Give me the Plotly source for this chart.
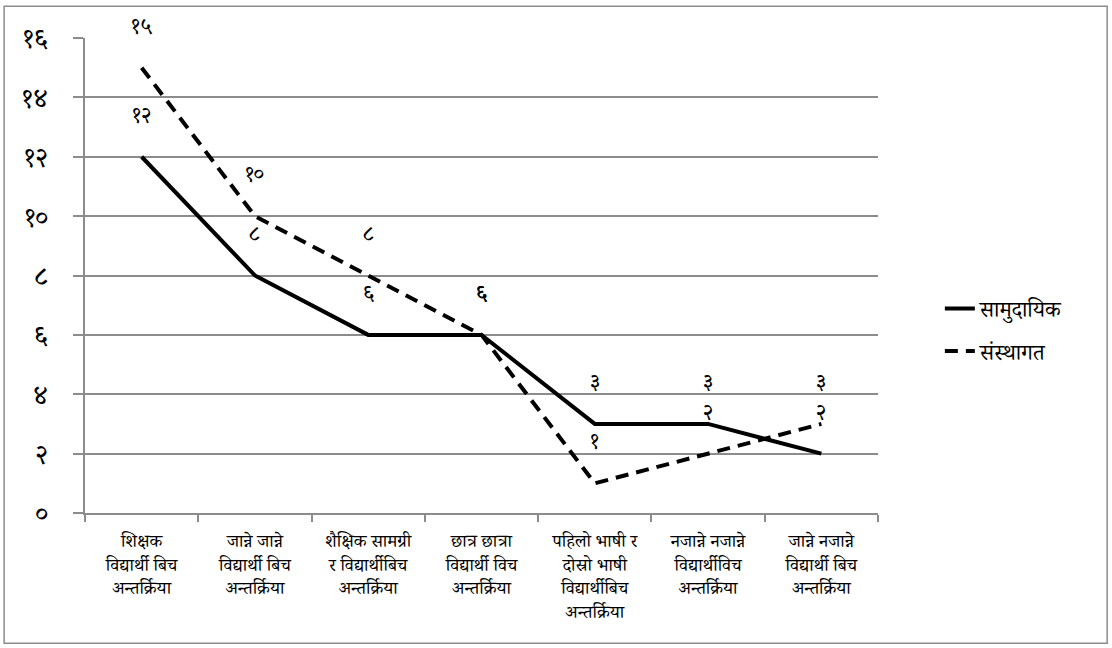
import plotly.graph_objects as go

categories = [
    "शिक्षक<br>विद्यार्थी बिच<br>अन्तर्क्रिया",
    "जान्ने जान्ने<br>विद्यार्थी बिच<br>अन्तर्क्रिया",
    "शैक्षिक सामग्री<br>र विद्यार्थीबिच<br>अन्तर्क्रिया",
    "छात्र छात्रा<br>विद्यार्थी विच<br>अन्तर्क्रिया",
    "पहिलो भाषी र<br>दोस्रो भाषी<br>विद्यार्थीबिच<br>अन्तर्क्रिया",
    "नजान्ने नजान्ने<br>विद्यार्थीविच<br>अन्तर्क्रिया",
    "जान्ने नजान्ने<br>विद्यार्थी बिच<br>अन्तर्क्रिया",
]
samudayik = [12, 8, 6, 6, 3, 3, 2]
sansthagat = [15, 10, 8, 6, 1, 2, 3]
series_names = ["सामुदायिक", "संस्थागत"]
y_tickvals = [0, 2, 4, 6, 8, 10, 12, 14, 16]

DEV = "०१२३४५६७८९"
def dev(n):
    return "".join(DEV[int(c)] for c in str(n))

FONT = "Kokila, Mangal, 'Noto Serif Devanagari', 'Noto Sans Devanagari', 'Noto Sans', serif"

fig = go.Figure()
fig.add_trace(go.Scatter(x=categories, y=samudayik, mode="lines", name=series_names[0],
                         legendgroup="a",
                         line=dict(color="#000000", width=4)))
fig.add_trace(go.Scatter(x=categories, y=sansthagat, mode="lines", name=series_names[1],
                         legendgroup="b",
                         line=dict(color="#000000", width=4, dash="13px,8px")))

annotations = []
for series in (samudayik, sansthagat):
    for c, v in zip(categories, series):
        annotations.append(dict(x=c, y=v, xref="x", yref="y", text=dev(v), showarrow=False,
                                yshift=38, font=dict(size=22, color="#000", family=FONT)))

fig.update_layout(
    width=1112, height=648,
    margin=dict(l=85, r=234, t=38, b=135, autoexpand=False),
    paper_bgcolor="white", plot_bgcolor="white",
    font=dict(family=FONT, color="#000"),
    showlegend=True,
    legend=dict(x=1.078, y=0.385, xanchor="left", yanchor="middle",
                font=dict(size=22, family=FONT), tracegroupgap=11,
                bgcolor="rgba(0,0,0,0)"),
    annotations=annotations,
    shapes=[dict(type="rect", xref="paper", yref="paper", x0=-0.102, x1=1.289, y0=-0.274, y1=1.067,
                 line=dict(color="#8c8c8c", width=1.5), fillcolor="rgba(0,0,0,0)", layer="below")],
)
fig.update_xaxes(
    automargin=False,
    showgrid=False, showline=True, linecolor="#8c8c8c", linewidth=1.5,
    ticks="outside", tickson="boundaries", ticklen=7, tickcolor="#8c8c8c", tickwidth=1.5,
    tickfont=dict(size=18, family=FONT, color="#000"), tickangle=0,
    ticklabelstandoff=11,
    range=[-0.5, 6.5], fixedrange=True,
)
fig.update_yaxes(
    automargin=False,
    range=[0, 16], tickvals=y_tickvals, ticktext=[dev(v) for v in y_tickvals],
    showgrid=True, gridcolor="#8c8c8c", gridwidth=1.5,
    showline=True, linecolor="#8c8c8c", linewidth=1.5,
    ticks="outside", ticklen=10, tickcolor="#8c8c8c", tickwidth=1.5,
    tickfont=dict(size=27, family=FONT, color="#000"),
    ticklabelstandoff=20,
    zeroline=False,
)

fig.write_html("out.html", config={"displayModeBar": False},
               post_script="document.body.style.margin='0';")
